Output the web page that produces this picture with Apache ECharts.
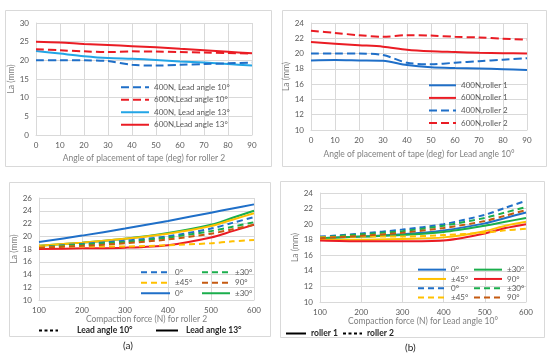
<!DOCTYPE html>
<html><head><meta charset="utf-8">
<script src="https://cdn.jsdelivr.net/npm/echarts@6/dist/echarts.min.js"></script>
<style>html,body{margin:0;padding:0;background:#fff}#c{width:550px;height:355px}</style>
</head><body><div id="c"></div>
<script>
// ---- data ----
const angleX = [0,10,20,30,40,50,60,70,80,90];
// panel 1 (roller 2)
const p1_400_10 = [20.0,20.0,20.0,19.8,18.8,18.6,18.8,19.0,19.2,19.4];
const p1_600_10 = [23.0,22.7,22.4,22.2,22.4,22.35,22.2,22.1,21.95,21.8];
const p1_400_13 = [22.5,21.8,21.1,20.6,20.4,20.1,19.7,19.4,19.0,18.6];
const p1_600_13 = [25.0,24.8,24.4,24.1,23.8,23.5,23.1,22.7,22.3,21.9];
const p1Names = ['400N, Lead angle 10°','600N,Lead angle 10°','400N, Lead angle 13°','600N,Lead angle 13°'];
// panel 2 (lead angle 10)
const p2_400_r1 = [19.1,19.15,19.1,19.05,18.5,18.2,18.1,18.05,17.95,17.85];
const p2_600_r1 = [21.5,21.3,21.1,20.9,20.5,20.3,20.2,20.1,20.05,20.0];
const p2_400_r2 = [20.0,20.0,20.0,19.8,18.8,18.6,18.8,19.0,19.2,19.4];
const p2_600_r2 = [23.0,22.7,22.4,22.2,22.4,22.35,22.2,22.1,21.95,21.8];
const p2Names = ['400N,roller 1','600N,roller 1','400N,roller 2','600N,roller 2'];
// panels 3,4 (compaction force)
const forceX = [100,200,300,400,500,550,600];
const a_10_0   = [18.3,18.8,19.3,20.0,21.2,22.1,23.0];
const a_10_30  = [18.3,18.7,19.1,19.8,20.8,21.5,22.2];
const a_10_45  = [18.3,18.4,18.4,18.6,18.9,19.2,19.4];
const a_10_90  = [18.2,18.5,18.9,19.5,20.4,21.1,21.8];
const a_13_0   = [19.1,20.1,21.2,22.4,23.7,24.35,25.0];
const a_13_30  = [18.5,19.0,19.6,20.5,21.8,22.9,24.0];
const a_13_45  = [18.5,19.0,19.6,20.4,21.6,22.6,23.6];
const a_13_90  = [18.0,18.1,18.2,18.6,19.8,20.8,21.8];
const b_r1_0   = [18.2,18.4,18.7,19.2,20.1,20.8,21.5];
const b_r1_30  = [18.2,18.4,18.6,19.0,19.8,20.3,20.8];
const b_r1_45  = [18.0,18.0,18.1,18.3,19.1,19.8,20.3];
const b_r1_90  = [17.9,17.8,17.8,17.9,18.8,19.5,20.0];
const b_r2_0   = [18.4,18.8,19.3,20.0,21.2,22.1,23.0];
const b_r2_30  = [18.3,18.7,19.1,19.8,20.8,21.5,22.2];
const b_r2_45  = [18.3,18.4,18.4,18.6,18.9,19.2,19.4];
const b_r2_90  = [18.2,18.5,18.9,19.5,20.4,21.1,21.8];
const orientNames = ['0°','±30°','±45°','90°'];
const capA = ['Lead angle 10°','Lead angle 13°'];
const capB = ['roller 1','roller 2'];
const xTitles = ['Angle of placement of tape (deg) for roller 2','Angle of placement of tape (deg) for Lead angle 10°','Compaction force (N) for roller 2','Compaction force (N) for Lead angle 10°'];

// ---- styling ----
const FONT = 'Lato, "Open Sans", sans-serif';
const BLUE='#1F6FC8', CYAN='#22A5E6', RED='#EA1C24', GREEN='#1AAE4C', YEL='#FFC000', BRN='#C55A11';
const GRID='#d9d9d9';
const pair = (xs, ys) => xs.map((x,i)=>[x,ys[i]]);
function ser(name, xs, ys, color, dash, idx, width){
  return {type:'line', name, xAxisIndex:idx, yAxisIndex:idx, data: pair(xs,ys),
    symbol:'none', smooth:0.3, color,
    lineStyle:{color, width: width||2, type: dash||'solid', cap:'butt'}, z: dash? 3:2};
}
const sp = n => ' '.repeat(n);
const D1=[8,4], D2=[6,4];
const series = [
  ser(p1Names[0], angleX, p1_400_10, BLUE, D1, 0),
  ser(p1Names[1], angleX, p1_600_10, RED, D1, 0),
  ser(p1Names[2], angleX, p1_400_13, CYAN, null, 0),
  ser(p1Names[3], angleX, p1_600_13, RED, null, 0),
  ser(p2Names[0], angleX, p2_400_r1, BLUE, null, 1),
  ser(p2Names[1], angleX, p2_600_r1, RED, null, 1),
  ser(p2Names[2], angleX, p2_400_r2, BLUE, D1, 1),
  ser(p2Names[3], angleX, p2_600_r2, RED, D1, 1),
  // panel 3
  ser(orientNames[0]+sp(1), forceX, a_13_0, BLUE, null, 2),
  ser(orientNames[1]+sp(1), forceX, a_13_30, GREEN, null, 2),
  ser(orientNames[2]+sp(1), forceX, a_13_45, YEL, null, 2),
  ser(orientNames[3]+sp(1), forceX, a_13_90, RED, null, 2),
  ser(orientNames[0]+sp(2), forceX, a_10_0, BLUE, D2, 2),
  ser(orientNames[1]+sp(2), forceX, a_10_30, GREEN, D2, 2),
  ser(orientNames[2]+sp(2), forceX, a_10_45, YEL, D2, 2),
  ser(orientNames[3]+sp(2), forceX, a_10_90, BRN, D2, 2),
  // panel 4
  ser(orientNames[0]+sp(3), forceX, b_r1_0, BLUE, null, 3),
  ser(orientNames[1]+sp(3), forceX, b_r1_30, GREEN, null, 3),
  ser(orientNames[2]+sp(3), forceX, b_r1_45, YEL, null, 3),
  ser(orientNames[3]+sp(3), forceX, b_r1_90, RED, null, 3),
  ser(orientNames[0]+sp(4), forceX, b_r2_0, BLUE, D2, 3),
  ser(orientNames[1]+sp(4), forceX, b_r2_30, GREEN, D2, 3),
  ser(orientNames[2]+sp(4), forceX, b_r2_45, YEL, D2, 3),
  ser(orientNames[3]+sp(4), forceX, b_r2_90, BRN, D2, 3),
  // caption legends (no data)
  {type:'line', name:capA[0], xAxisIndex:2, yAxisIndex:2, data:[], symbol:'none', color:'#000', lineStyle:{color:'#000', width:2, type:[3,2.5]}},
  {type:'line', name:capA[1], xAxisIndex:2, yAxisIndex:2, data:[], symbol:'none', color:'#000', lineStyle:{color:'#000', width:3, type:'solid'}},
  {type:'line', name:capB[0], xAxisIndex:3, yAxisIndex:3, data:[], symbol:'none', color:'#000', lineStyle:{color:'#000', width:3, type:'solid'}},
  {type:'line', name:capB[1], xAxisIndex:3, yAxisIndex:3, data:[], symbol:'none', color:'#000', lineStyle:{color:'#000', width:2, type:[3,2.5]}}
];

const grids = [
  {left:36, top:23, width:216, height:112},
  {left:311, top:23, width:216, height:107},
  {left:39, top:198, width:215, height:102},
  {left:320, top:193, width:206, height:109}
];
const axLabel = {color:'#595959', fontSize:8, fontFamily:FONT};
const nameStyle = {color:'#7f7f7f', fontSize:8.5, fontFamily:FONT};
const xRanges = [[0,90,10],[0,90,10],[100,600,100],[100,600,100]];
const yRanges = [[0,30,5],[10,24,2],[10,26,2],[10,24,2]];
const xGaps = [19,20,14,15];
const xAxis = xRanges.map((r,i)=>({type:'value', gridIndex:i, min:r[0], max:r[1], interval:r[2],
  name:xTitles[i], nameLocation:'middle', nameGap: xGaps[i], nameTextStyle:nameStyle,
  axisLine:{show:true, lineStyle:{color:GRID}}, axisTick:{show:false},
  axisLabel:Object.assign({margin:6}, axLabel), splitLine:{show:true, lineStyle:{color:GRID, width:1}}}));
const yAxis = yRanges.map((r,i)=>({type:'value', gridIndex:i, min:r[0], max:r[1], interval:r[2],
  name:'La (mm)', nameLocation:'middle', nameGap:17, nameTextStyle:nameStyle,
  axisLine:{show:true, lineStyle:{color:GRID}}, axisTick:{show:false},
  axisLabel:Object.assign({margin:7}, axLabel), splitLine:{show:true, lineStyle:{color:GRID, width:1}}}));

const lgText = {color:'#595959', fontSize:8, fontFamily:FONT};
const trimFmt = n => n.trim();
function lg(data, left, top, w, lh, extra){
  return Object.assign({orient:'vertical', left, top, data, itemWidth:w, itemHeight:8, itemGap:0,
    selectedMode:false, formatter:trimFmt, padding:0, itemStyle:{opacity:0},
    textStyle:Object.assign({lineHeight:lh}, lgText)}, extra||{});
}
const capText = {color:'#262626', fontSize:8.5, fontFamily:FONT, fontWeight:'bold', lineHeight:11};
const legend = [
  lg(p1Names, 120, 81, 28, 12.5),
  lg(p2Names, 428, 79, 27, 12.6),
  lg([orientNames[0]+sp(2), orientNames[2]+sp(2), orientNames[0]+sp(1)], 140, 267, 29, 10.5),
  lg([orientNames[1]+sp(2), orientNames[3]+sp(2), orientNames[1]+sp(1)], 201, 267, 28, 10.5),
  lg([orientNames[0]+sp(3), orientNames[2]+sp(3), orientNames[0]+sp(4), orientNames[2]+sp(4)], 417, 265, 28, 9.3),
  lg([orientNames[1]+sp(3), orientNames[3]+sp(3), orientNames[1]+sp(4), orientNames[3]+sp(4)], 473, 265, 28, 9.3),
  lg([capA[0]], 38, 325, 19, 11, {formatter: n => '{p|}' + n, textStyle:Object.assign({rich:{p:{width:14}}}, capText)}),
  lg([capA[1]], 155, 325, 22, 11, {formatter: n => '{p|}' + n, textStyle:Object.assign({rich:{p:{width:3}}}, capText)}),
  lg([capB[0]], 285, 328, 20, 11, {textStyle:capText}),
  lg([capB[1]], 342, 328, 19, 11, {textStyle:capText})
];

const box = (x,y,w,h)=>({type:'rect', shape:{x,y,width:w,height:h}, style:{fill:'none', stroke:GRID, lineWidth:1}, silent:true, z:-1});
const graphic = [
  box(5.5,10.5,266,156),
  box(282.5,10.5,264,156),
  box(9.5,182.5,261,154),
  box(280.5,181.5,264,156),
  {type:'text', left:123, top:341, style:{text:'(a)', fontSize:10, fill:'#262626', fontFamily:FONT}},
  {type:'text', left:405, top:343, style:{text:'(b)', fontSize:10, fill:'#262626', fontFamily:FONT}}
];

const chart = echarts.init(document.getElementById('c'), null, {renderer:'canvas'});
chart.setOption({animation:false, backgroundColor:'#fff', grid:grids, xAxis, yAxis, series, legend, graphic});
</script></body></html>
